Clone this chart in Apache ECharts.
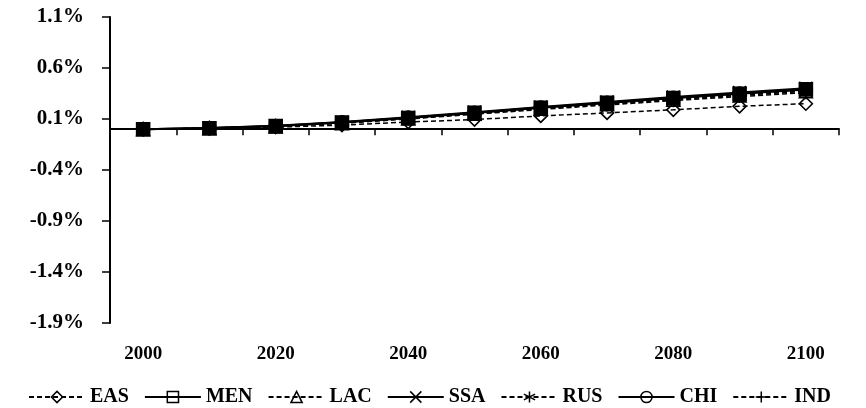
<!DOCTYPE html>
<html>
<head>
<meta charset="utf-8">
<script src="https://cdn.jsdelivr.net/npm/echarts@6/dist/echarts.min.js"></script>
<style>html,body{margin:0;padding:0;background:#fff}#c{width:866px;height:408px}</style>
</head>
<body>
<div id="c"></div>
<script>
const years = ['2000','2010','2020','2030','2040','2050','2060','2070','2080','2090','2100'];
const EAS = [0, 0.005, 0.02, 0.04, 0.07, 0.095, 0.13, 0.16, 0.19, 0.225, 0.25];
const MEN = [0, 0.01, 0.03, 0.065, 0.11, 0.16, 0.21, 0.258, 0.305, 0.348, 0.39];
const LAC = [0, 0.01, 0.028, 0.06, 0.105, 0.152, 0.2, 0.246, 0.29, 0.332, 0.372];
const SSA = [0, 0.012, 0.034, 0.07, 0.117, 0.167, 0.218, 0.267, 0.315, 0.36, 0.402];
const RUS = [0, 0.01, 0.03, 0.063, 0.108, 0.157, 0.205, 0.252, 0.298, 0.34, 0.38];
const CHI = [0, 0.012, 0.032, 0.068, 0.113, 0.162, 0.212, 0.26, 0.307, 0.35, 0.392];
const IND = [0, 0.008, 0.026, 0.058, 0.1, 0.147, 0.193, 0.238, 0.28, 0.32, 0.358];
const seriesNames = ['EAS','MEN','LAC','SSA','RUS','CHI','IND'];
const yMin = -1.9, yMax = 1.1, yStep = 0.5;

const FONT = '"Liberation Serif", "Times New Roman", serif';
const defs = {
  EAS: {data: EAS, dashed: true, symbol: 'diamond', fill: 'rgba(0,0,0,0)'},
  MEN: {data: MEN, dashed: false, symbol: 'rect', fill: '#000'},
  LAC: {data: LAC, dashed: true, symbol: 'triangle', fill: 'rgba(0,0,0,0)'},
  SSA: {data: SSA, dashed: false, symbol: 'path://M0,0L10,10M10,0L0,10', fill: 'rgba(0,0,0,0)'},
  RUS: {data: RUS, dashed: true, symbol: 'path://M5,0L5,10M0.7,2.5L9.3,7.5M9.3,2.5L0.7,7.5', fill: 'rgba(0,0,0,0)'},
  CHI: {data: CHI, dashed: false, symbol: 'circle', fill: 'rgba(0,0,0,0)'},
  IND: {data: IND, dashed: true, symbol: 'path://M5,0L5,10M0,5L10,5', fill: 'rgba(0,0,0,0)'}
};

const series = seriesNames.map(n => {
  const d = defs[n];
  return {
    name: n,
    type: 'line',
    xAxisIndex: 0,
    data: d.data,
    symbol: d.symbol,
    symbolSize: 13,
    showAllSymbol: true,
    animation: false,
    lineStyle: {color: '#000', width: d.dashed ? 1.5 : 2, type: d.dashed ? [5, 3] : 'solid'},
    itemStyle: {color: d.fill, borderColor: '#000', borderWidth: 1.6}
  };
});

const chart = echarts.init(document.getElementById('c'), null, {renderer: 'canvas'});
chart.setOption({
  backgroundColor: '#fff',
  animation: false,
  grid: {left: 110, right: 27, top: 17, bottom: 85, containLabel: false},
  legend: {
    data: seriesNames.map(n => ({name: n, itemStyle: {color: 'rgba(0,0,0,0)', borderColor: '#000', borderWidth: 1.5}})),
    left: 23,
    top: 382,
    itemWidth: 56,
    itemHeight: 14,
    itemGap: 15,
    textStyle: {fontFamily: FONT, fontWeight: 'bold', fontSize: 20, color: '#000'}
  },
  xAxis: [
    {
      type: 'category',
      data: years,
      boundaryGap: true,
      axisLine: {show: true, onZero: true, lineStyle: {color: '#000', width: 2}},
      axisTick: {show: true, interval: 0, length: 6, lineStyle: {color: '#000', width: 1.5}},
      axisLabel: {show: false},
      splitLine: {show: false}
    },
    {
      type: 'category',
      data: years,
      boundaryGap: true,
      position: 'bottom',
      axisLine: {show: false, onZero: false},
      axisTick: {show: false},
      axisLabel: {show: true, interval: 1, margin: 22, color: '#000', fontFamily: FONT, fontWeight: 'bold', fontSize: 19},
      splitLine: {show: false}
    }
  ],
  yAxis: {
    type: 'value',
    min: yMin,
    max: yMax,
    interval: yStep,
    axisLine: {show: true, lineStyle: {color: '#000', width: 2}},
    axisTick: {show: true, length: 8, lineStyle: {color: '#000', width: 1.5}},
    axisLabel: {margin: 26, color: '#000', fontFamily: FONT, fontWeight: 'bold', fontSize: 21,
      formatter: v => v.toFixed(1) + '%'},
    splitLine: {show: false}
  },
  series: series
});
</script>
</body>
</html>
